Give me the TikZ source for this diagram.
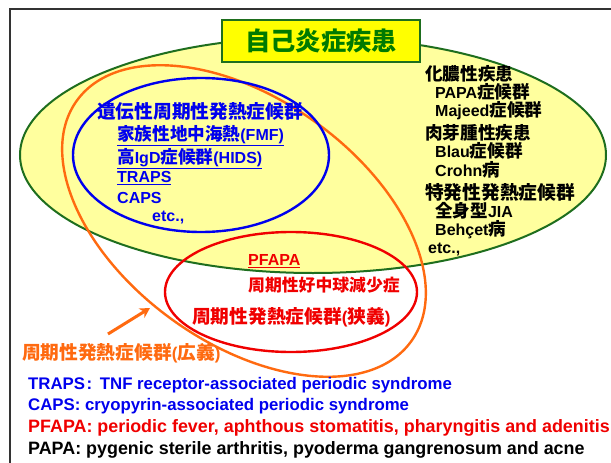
\documentclass[tikz,border=0pt]{standalone}
\usepackage{fontspec}
\setmainfont{Liberation Sans}
\newfontfamily\jpfont[Scale=1.1]{Noto Sans CJK JP}
\newcommand{\jp}[1]{{\jpfont #1}}
\usetikzlibrary{arrows.meta}

\definecolor{autoGreen}{HTML}{1E6E1E}
\definecolor{titleGreen}{HTML}{007A00}
\definecolor{paleYellow}{HTML}{FFFF9E}
\definecolor{hotYellow}{HTML}{FFFF00}
\definecolor{periBlue}{HTML}{0000EE}
\definecolor{periRed}{HTML}{F00000}
\definecolor{periOrange}{HTML}{FF6A10}

\tikzset{
  lbl/.style={anchor=west, inner sep=0pt, font=\bfseries\fontsize{16}{18}\selectfont},
  biglbl/.style={lbl, font=\bfseries\fontsize{17}{19}\selectfont},
  smalllbl/.style={lbl, font=\bfseries\fontsize{15.3}{17}\selectfont},
  legA/.style={lbl, font=\bfseries\fontsize{16.8}{19}\selectfont},
  legB/.style={lbl, font=\bfseries\fontsize{17.9}{20}\selectfont},
  ring/.style={line width=2.4pt},
  titlebox/.style={draw=autoGreen, line width=2pt, fill=hotYellow, text=titleGreen,
    minimum width=198pt, minimum height=42pt, inner sep=0pt,
    font=\bfseries\fontsize{23}{26}\selectfont},
}

\begin{document}
\begin{tikzpicture}[x=1pt, y=-1pt]
  \clip (0,0) rectangle (611,463);
  \fill[white] (0,0) rectangle (611,463);
  % outer frame
  \draw[line width=1.5pt, black!80] (10,9) rectangle (640,490);

  % circles
  \draw[fill=paleYellow, draw=autoGreen, line width=2pt] (313,155) ellipse [x radius=293, y radius=118];
  \draw[ring, periOrange, rotate around={-35.7:(244,221)}] (244,221) ellipse [x radius=206, y radius=122];
  \draw[ring, periBlue] (201,155) ellipse [x radius=128, y radius=77];
  \draw[ring, periRed] (291,292) ellipse [x radius=126, y radius=60];

  \node[titlebox] (title) at (321,41) {\jp{自己炎症疾患}};

  % hereditary group
  \node[biglbl, periBlue] (hered) at (97,111) {\jp{遺伝性周期性発熱症候群}};
  \node[lbl, periBlue] (fmf) at (117,136) {\underline{\jp{家族性地中海熱}(FMF)}};
  \node[lbl, periBlue] (hids) at (117,159) {\underline{\jp{高}IgD\jp{症候群}(HIDS)}};
  \node[lbl, periBlue] (traps) at (117,178) {\underline{TRAPS}};
  \node[lbl, periBlue] (caps) at (117,198) {CAPS};
  \node[lbl, periBlue] (etcA) at (152,218) {etc.,};

  % other autoinflammatory
  \node[lbl] (pyo) at (425,74) {\jp{化膿性疾患}};
  \node[lbl] (papa) at (435,92) {PAPA\jp{症候群}};
  \node[lbl] (majeed) at (435,111) {Majeed\jp{症候群}};
  \node[lbl] (gran) at (425,133) {\jp{肉芽腫性疾患}};
  \node[lbl] (blau) at (435,151) {Blau\jp{症候群}};
  \node[lbl] (crohn) at (435,170) {Crohn\jp{病}};
  \node[biglbl] (idio) at (425,192) {\jp{特発性発熱症候群}};
  \node[lbl] (jia) at (435,211) {\jp{全身型}JIA};
  \node[lbl] (behcet) at (435,230) {Behçet\jp{病}};
  \node[lbl] (etcB) at (428,250) {etc.,};

  % narrow sense
  \node[lbl, periRed] (pfapa) at (248,261) {\underline{PFAPA}};
  \node[smalllbl, periRed] (neutro) at (248,285) {\jp{周期性好中球減少症}};
  \node[biglbl, periRed] (narrow) at (192,317) {\jp{周期性発熱症候群}(\jp{狭義})};

  % broad sense
  \node[biglbl, periOrange] (broad) at (22,353) {\jp{周期性発熱症候群}(\jp{広義})};
  \coordinate (arrS) at (108,334);
  \coordinate (arrE) at (150,308);
  \draw[periOrange, line width=3pt, -{Stealth[length=10pt, width=11pt]}] (arrS) -- (arrE);

  % legend
  \node[legA, periBlue] (legTraps) at (28,385) {TRAPS\kern1.5pt:\kern3pt\ TNF receptor-associated periodic syndrome};
  \node[legA, periBlue] (legCaps) at (28,406) {CAPS: cryopyrin-associated periodic syndrome};
  \node[legB, periRed] (legPfapa) at (28,428) {PFAPA: periodic fever, aphthous stomatitis, pharyngitis and adenitis};
  \node[legB] (legPapa) at (28,450) {PAPA: pygenic sterile arthritis, pyoderma gangrenosum and acne};
\end{tikzpicture}
\end{document}
